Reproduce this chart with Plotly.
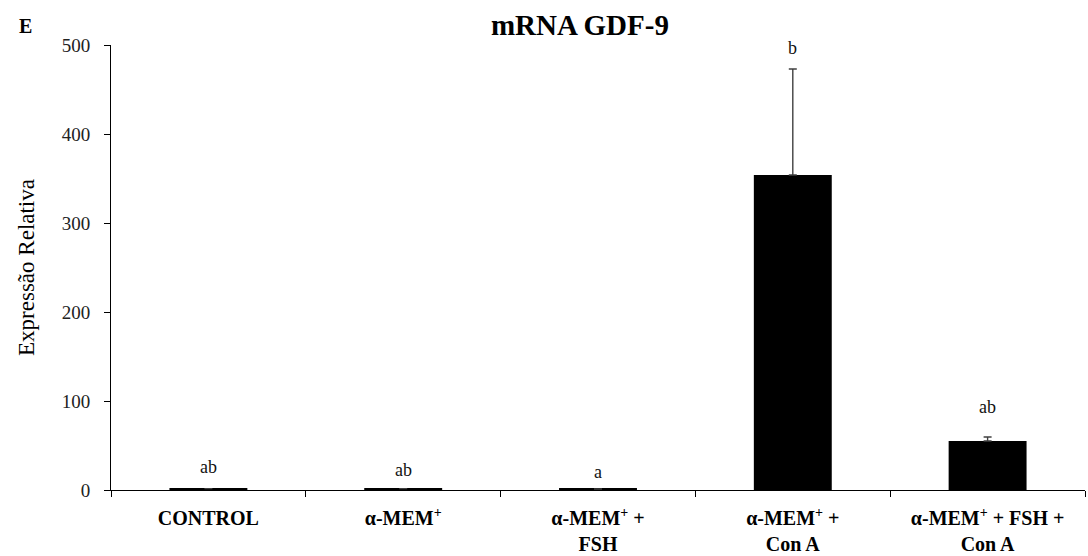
import plotly.graph_objects as go

categories = ["CONTROL", "α-MEM<sup>+</sup>", "α-MEM<sup>+</sup> +<br>FSH",
              "α-MEM<sup>+</sup> +<br>Con A", "α-MEM<sup>+</sup> + FSH +<br>Con A"]
means = [1.5, 1.5, 1.2, 354, 55]
sem_up = [0, 0, 0, 119, 4.5]
letters = ["ab", "ab", "a", "b", "ab"]
letter_y = [26, 23, 20, 497, 93]

SERIF = "'Liberation Serif', 'Times New Roman', 'DejaVu Serif', serif"

fig = go.Figure()
fig.add_trace(go.Bar(
    x=categories, y=means, width=0.4,
    marker=dict(color="black", line=dict(width=0)),
    error_y=dict(type="data", symmetric=False, array=sem_up,
                 arrayminus=[0] * len(sem_up), color="#404040",
                 thickness=1.4, width=4),
    showlegend=False,
))

for c, l, yy in zip(categories, letters, letter_y):
    fig.add_annotation(x=c, y=yy, text=l, showarrow=False,
                       font=dict(family=SERIF, size=18, color="#111111"),
                       xref="x", yref="y")

fig.add_annotation(x=-0.088, y=1.042, xref="paper", yref="paper", text="<b>E</b>",
                   xanchor="center", yanchor="middle",
                   showarrow=False, font=dict(family=SERIF, size=20, color="black"))

fig.update_layout(
    width=1088, height=556,
    margin=dict(l=111, r=3, t=45, b=66, autoexpand=False),
    paper_bgcolor="white", plot_bgcolor="white",
    title=dict(text="<b>mRNA GDF-9</b>", x=0.533, xanchor="center",
               y=0.956, yanchor="middle",
               font=dict(family=SERIF, size=29, color="black")),
    bargap=0.6,
)

fig.update_xaxes(
    showline=True, linecolor="black", linewidth=1, automargin=False,
    ticks="outside", tickson="boundaries", ticklen=6, tickcolor="black",
    tickfont=dict(family=SERIF, size=20, color="black"),
    tickangle=0, showgrid=False, ticklabelstandoff=10,
    tickvals=categories, ticktext=["<b>" + c + "</b>" for c in categories],
)
fig.update_yaxes(
    range=[0, 500], showline=True, linecolor="black", linewidth=1, automargin=False,
    ticks="outside", ticklen=6, tickcolor="black", dtick=100,
    tickfont=dict(family=SERIF, size=19, color="#222222"),
    showgrid=False, zeroline=False, ticklabelstandoff=10,
    title=dict(text="Expressão Relativa", standoff=20,
               font=dict(family=SERIF, size=23, color="black")),
)

fig.write_html("out.html")
